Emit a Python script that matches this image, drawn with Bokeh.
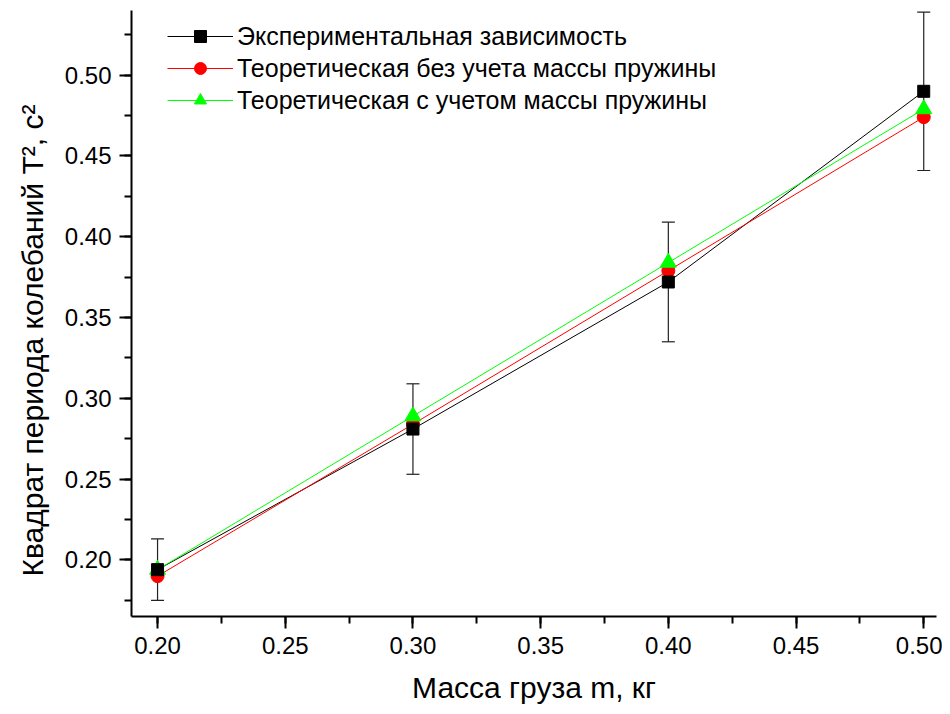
from bokeh.plotting import figure
from bokeh.models import (ColumnDataSource, Whisker, TeeHead, Legend, LegendItem,
                          SingleIntervalTicker, PrintfTickFormatter, Range1d, Title)
from bokeh.embed import file_html
from bokeh.resources import INLINE

# Data
mass = [0.20, 0.30, 0.40, 0.50]
t2_exp = [0.194, 0.281, 0.372, 0.490]
t2_err = [0.019, 0.028, 0.037, 0.049]
t2_theory_no_spring = [0.190, 0.284, 0.379, 0.474]
t2_theory_spring = [0.194, 0.289, 0.384, 0.479]

labels = ["Экспериментальная зависимость",
          "Теоретическая без учета массы пружины",
          "Теоретическая с учетом массы пружины"]
x_title = "Масса груза m, кг"
y_title = "Квадрат периода колебаний T², c²"

FONT = "Liberation Sans"

p = figure(width=942, height=706, output_backend="svg", toolbar_location=None,
           x_range=Range1d(0.1898, 0.505), y_range=Range1d(0.165, 0.540),
           min_border_left=129, min_border_right=6, min_border_top=10, min_border_bottom=88)
p.outline_line_color = None
p.grid.visible = False
p.background_fill_color = "white"

# Series
l1 = p.line(mass, t2_exp, line_color="black", line_width=1)
l2 = p.line(mass, t2_theory_no_spring, line_color="red", line_width=1)
l3 = p.line(mass, t2_theory_spring, line_color="#00ff00", line_width=1)

s2 = p.scatter(mass, t2_theory_no_spring, marker="circle", size=13,
               fill_color="red", line_color="red")
s3 = p.scatter(mass, t2_theory_spring, marker="triangle", size=16,
               fill_color="#00ff00", line_color="#00ff00")
s1 = p.scatter(mass, t2_exp, marker="square", size=12,
               fill_color="black", line_color="black")

src = ColumnDataSource(dict(base=mass,
                            upper=[v + e for v, e in zip(t2_exp, t2_err)],
                            lower=[v - e for v, e in zip(t2_exp, t2_err)]))
w = Whisker(source=src, base="base", upper="upper", lower="lower",
            line_color="#222222", line_width=1.2,
            upper_head=TeeHead(size=13, line_color="#222222", line_width=1.2),
            lower_head=TeeHead(size=13, line_color="#222222", line_width=1.2))
p.add_layout(w)

# Axes
p.xaxis.ticker = SingleIntervalTicker(interval=0.05, num_minor_ticks=2)
p.yaxis.ticker = SingleIntervalTicker(interval=0.05, num_minor_ticks=2)
p.xaxis.formatter = PrintfTickFormatter(format="%.2f")
p.yaxis.formatter = PrintfTickFormatter(format="%.2f")
for ax in (p.xaxis, p.yaxis):
    ax.axis_line_width = 2
    ax.axis_line_color = "black"
    ax.major_tick_line_width = 2
    ax.minor_tick_line_width = 2
    ax.major_tick_line_color = "black"
    ax.minor_tick_line_color = "black"
    ax.major_tick_out = 12
    ax.major_tick_in = 0
    ax.minor_tick_out = 7
    ax.minor_tick_in = 0
    ax.major_label_text_font = FONT
    ax.major_label_text_font_size = "24px"
    ax.major_label_text_color = "black"
    ax.axis_label_text_font = FONT
    ax.axis_label_text_font_size = "30px"
    ax.axis_label_text_font_style = "normal"
    ax.axis_label_text_color = "black"
p.xaxis.major_label_standoff = 8
p.yaxis.major_label_standoff = 8
p.xaxis.axis_label = x_title
p.xaxis.axis_label_standoff = 14

# Y title placed slightly off-centre like the original (vertical title in the left panel)
ytitle = Title(text=y_title, align="left", offset=40, standoff=26,
               text_font=FONT, text_font_size="30px", text_font_style="normal",
               text_color="black")
p.add_layout(ytitle, "left")

legend = Legend(items=[LegendItem(label=labels[0], renderers=[l1, s1]),
                       LegendItem(label=labels[1], renderers=[l2, s2]),
                       LegendItem(label=labels[2], renderers=[l3, s3])],
                location=(36, 501), border_line_color=None, background_fill_alpha=0,
                padding=0, margin=0, spacing=2, glyph_width=66, glyph_height=30,
                label_standoff=4, label_text_font=FONT, label_text_font_size="25px",
                label_text_color="black")
p.add_layout(legend, "center")

open("out.html", "w").write(file_html(p, INLINE))
